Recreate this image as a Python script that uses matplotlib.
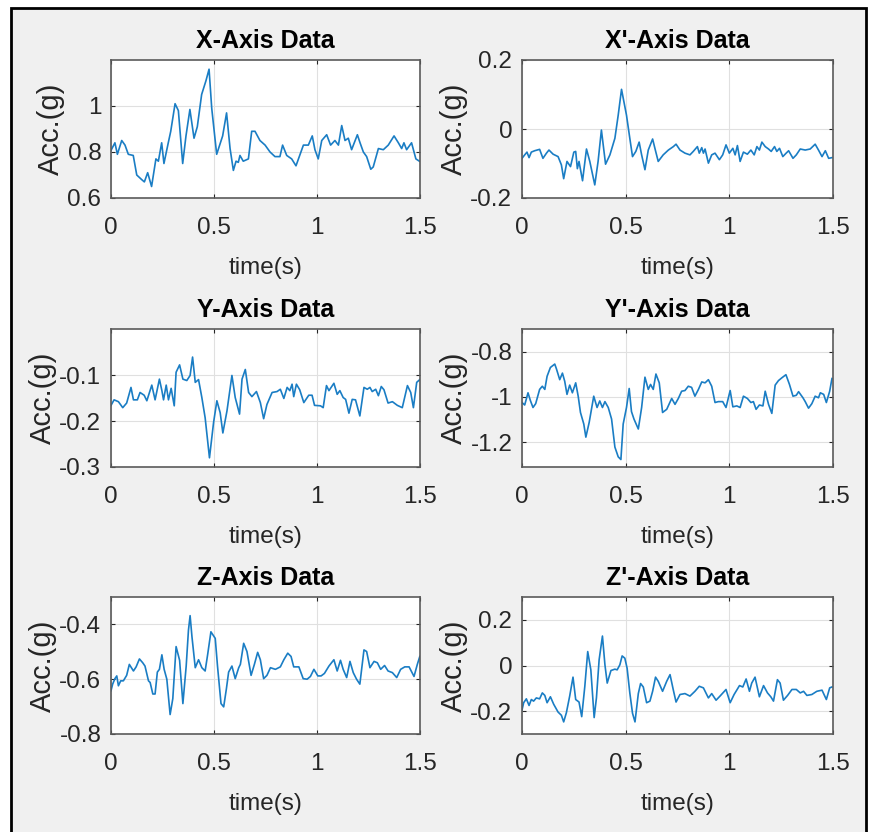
import matplotlib
matplotlib.use("Agg")
import matplotlib.pyplot as plt
from matplotlib.patches import Rectangle
from matplotlib.ticker import FormatStrFormatter

plt.rcParams['font.family'] = ['Liberation Sans', 'DejaVu Sans']
plt.rcParams['axes.unicode_minus'] = False

# ---- data (time in s, acceleration in g) ----
x_t = [0, 0.019, 0.031, 0.052, 0.068, 0.084, 0.108, 0.125, 0.149, 0.162, 0.178, 0.197, 0.218,
       0.230, 0.246, 0.257, 0.278, 0.290, 0.311, 0.327, 0.348, 0.364, 0.383, 0.403, 0.419, 0.440,
       0.461, 0.476, 0.489, 0.513, 0.542, 0.561, 0.578, 0.594, 0.607, 0.618, 0.626, 0.642, 0.667,
       0.683, 0.699, 0.723, 0.748, 0.772, 0.796, 0.820, 0.833, 0.853, 0.877, 0.898, 0.914, 0.934,
       0.958, 0.977, 0.990, 1.006, 1.023, 1.047, 1.066, 1.087, 1.104, 1.120, 1.136, 1.152, 1.168,
       1.196, 1.209, 1.225, 1.241, 1.261, 1.273, 1.298, 1.322, 1.346, 1.374, 1.395, 1.411, 1.422,
       1.435, 1.459, 1.480, 1.497]
x_acc = [0.807, 0.84, 0.79, 0.85, 0.83, 0.79, 0.785, 0.70, 0.68, 0.67, 0.71, 0.65, 0.77,
         0.76, 0.84, 0.75, 0.84, 0.89, 1.01, 0.98, 0.75, 0.87, 0.985, 0.86, 0.91, 1.05,
         1.11, 1.16, 0.99, 0.79, 0.87, 0.97, 0.815, 0.72, 0.76, 0.755, 0.785, 0.76, 0.77,
         0.89, 0.89, 0.85, 0.83, 0.80, 0.78, 0.78, 0.83, 0.785, 0.77, 0.74, 0.78, 0.83,
         0.83, 0.87, 0.81, 0.77, 0.85, 0.875, 0.83, 0.85, 0.83, 0.915, 0.85, 0.86, 0.81,
         0.875, 0.84, 0.80, 0.78, 0.725, 0.735, 0.815, 0.81, 0.83, 0.87, 0.84, 0.815, 0.84,
         0.81, 0.84, 0.77, 0.76]

xp_t = [0, 0.013, 0.024, 0.034, 0.045, 0.061, 0.085, 0.101, 0.118, 0.130, 0.150, 0.174, 0.190,
        0.201, 0.217, 0.234, 0.250, 0.259, 0.267, 0.275, 0.292, 0.311, 0.327, 0.351, 0.367, 0.383,
        0.403, 0.424, 0.448, 0.464, 0.480, 0.504, 0.520, 0.533, 0.549, 0.565, 0.577, 0.593, 0.609,
        0.630, 0.641, 0.657, 0.681, 0.706, 0.730, 0.743, 0.762, 0.786, 0.810, 0.826, 0.846, 0.855,
        0.867, 0.875, 0.883, 0.899, 0.915, 0.931, 0.952, 0.968, 0.984, 1.000, 1.017, 1.028, 1.039,
        1.052, 1.068, 1.087, 1.104, 1.120, 1.133, 1.145, 1.157, 1.173, 1.189, 1.202, 1.218, 1.229,
        1.242, 1.258, 1.274, 1.286, 1.307, 1.323, 1.342, 1.366, 1.390, 1.414, 1.430, 1.447, 1.463,
        1.479, 1.495]
xp_acc = [-0.085, -0.075, -0.067, -0.083, -0.067, -0.063, -0.059, -0.085, -0.070, -0.061, -0.073,
          -0.080, -0.104, -0.144, -0.094, -0.109, -0.067, -0.065, -0.115, -0.094, -0.150, -0.058,
          -0.094, -0.162, -0.094, -0.003, -0.102, -0.075, -0.027, 0.040, 0.115, 0.040, -0.027,
          -0.080, -0.065, -0.038, -0.075, -0.118, -0.061, -0.029, -0.056, -0.094, -0.075, -0.061,
          -0.051, -0.044, -0.061, -0.070, -0.075, -0.065, -0.051, -0.070, -0.054, -0.070, -0.058,
          -0.099, -0.075, -0.070, -0.089, -0.075, -0.046, -0.070, -0.056, -0.075, -0.048, -0.094,
          -0.067, -0.073, -0.061, -0.075, -0.051, -0.061, -0.038, -0.051, -0.058, -0.065, -0.051,
          -0.065, -0.056, -0.080, -0.070, -0.063, -0.085, -0.075, -0.058, -0.061, -0.058, -0.044,
          -0.061, -0.080, -0.063, -0.085, -0.083]

y_t = [0, 0.015, 0.036, 0.057, 0.076, 0.097, 0.109, 0.128, 0.141, 0.161, 0.174, 0.198, 0.214,
       0.235, 0.247, 0.255, 0.268, 0.279, 0.292, 0.307, 0.316, 0.333, 0.349, 0.368, 0.384, 0.396,
       0.409, 0.425, 0.441, 0.457, 0.478, 0.498, 0.514, 0.530, 0.543, 0.563, 0.587, 0.603, 0.624,
       0.636, 0.652, 0.668, 0.684, 0.706, 0.725, 0.741, 0.757, 0.782, 0.806, 0.822, 0.839, 0.855,
       0.868, 0.879, 0.887, 0.900, 0.916, 0.936, 0.960, 0.976, 0.988, 1.017, 1.030, 1.046, 1.058,
       1.082, 1.098, 1.111, 1.127, 1.139, 1.155, 1.171, 1.187, 1.208, 1.228, 1.244, 1.257, 1.268,
       1.285, 1.298, 1.312, 1.325, 1.345, 1.366, 1.390, 1.414, 1.439, 1.455, 1.468, 1.484, 1.499]
y_acc = [-0.166, -0.154, -0.158, -0.171, -0.161, -0.127, -0.154, -0.154, -0.138, -0.144, -0.156,
         -0.122, -0.154, -0.109, -0.134, -0.154, -0.122, -0.154, -0.129, -0.167, -0.094, -0.078,
         -0.109, -0.112, -0.101, -0.061, -0.116, -0.110, -0.149, -0.193, -0.280, -0.203, -0.156,
         -0.182, -0.226, -0.178, -0.101, -0.149, -0.185, -0.109, -0.088, -0.138, -0.147, -0.136,
         -0.160, -0.195, -0.164, -0.138, -0.136, -0.131, -0.151, -0.127, -0.134, -0.120, -0.147,
         -0.120, -0.132, -0.160, -0.144, -0.144, -0.166, -0.167, -0.171, -0.123, -0.134, -0.118,
         -0.142, -0.134, -0.149, -0.153, -0.183, -0.153, -0.154, -0.189, -0.127, -0.131, -0.127,
         -0.136, -0.131, -0.145, -0.125, -0.132, -0.161, -0.158, -0.166, -0.171, -0.123, -0.138,
         -0.171, -0.116, -0.110]

yp_t = [0, 0.013, 0.029, 0.040, 0.053, 0.066, 0.085, 0.098, 0.110, 0.121, 0.137, 0.158, 0.166,
        0.182, 0.195, 0.206, 0.217, 0.230, 0.243, 0.259, 0.271, 0.282, 0.298, 0.308, 0.324, 0.346,
        0.362, 0.375, 0.388, 0.400, 0.416, 0.432, 0.448, 0.464, 0.477, 0.488, 0.504, 0.517, 0.528,
        0.540, 0.561, 0.577, 0.593, 0.609, 0.620, 0.633, 0.646, 0.662, 0.678, 0.698, 0.722, 0.738,
        0.754, 0.770, 0.786, 0.802, 0.818, 0.834, 0.851, 0.867, 0.883, 0.899, 0.915, 0.931, 0.947,
        0.968, 0.984, 1.004, 1.017, 1.036, 1.052, 1.068, 1.087, 1.104, 1.116, 1.129, 1.145, 1.162,
        1.173, 1.189, 1.205, 1.221, 1.237, 1.253, 1.273, 1.290, 1.307, 1.323, 1.334, 1.355, 1.366,
        1.382, 1.398, 1.414, 1.430, 1.439, 1.455, 1.468, 1.484, 1.495]
yp_acc = [-1.025, -1.036, -0.982, -1.015, -1.047, -1.030, -0.967, -0.953, -0.967, -0.909, -0.870,
          -0.855, -0.876, -0.924, -0.895, -0.931, -0.989, -0.948, -0.982, -0.938, -0.997, -1.069,
          -1.120, -1.178, -1.113, -0.997, -1.047, -1.018, -1.047, -1.021, -1.047, -1.098, -1.222,
          -1.265, -1.277, -1.120, -1.047, -0.963, -1.065, -1.098, -1.142, -1.047, -0.913, -0.967,
          -0.945, -0.967, -0.899, -0.938, -1.069, -1.055, -1.007, -1.033, -1.007, -0.975, -0.972,
          -0.953, -0.958, -0.997, -0.967, -0.934, -0.938, -0.924, -0.953, -1.025, -1.021, -1.021,
          -1.047, -0.972, -1.044, -1.040, -1.047, -0.997, -1.007, -1.025, -1.021, -1.055, -1.036,
          -1.040, -0.975, -1.033, -1.073, -0.948, -0.928, -0.916, -0.902, -0.945, -0.997, -0.993,
          -0.977, -1.004, -1.021, -1.050, -1.030, -0.997, -1.004, -0.982, -0.989, -1.025, -0.975,
          -0.919]

z_t = [0, 0.008, 0.019, 0.028, 0.036, 0.047, 0.060, 0.076, 0.089, 0.109, 0.122, 0.138, 0.154,
       0.165, 0.182, 0.190, 0.203, 0.214, 0.225, 0.235, 0.247, 0.258, 0.271, 0.287, 0.300, 0.316,
       0.333, 0.349, 0.365, 0.376, 0.384, 0.393, 0.409, 0.425, 0.441, 0.457, 0.469, 0.485, 0.506,
       0.517, 0.534, 0.547, 0.560, 0.571, 0.587, 0.603, 0.620, 0.628, 0.644, 0.660, 0.680, 0.696,
       0.712, 0.725, 0.741, 0.757, 0.774, 0.798, 0.822, 0.839, 0.858, 0.874, 0.887, 0.912, 0.933,
       0.952, 0.968, 0.985, 1.004, 1.020, 1.036, 1.058, 1.082, 1.098, 1.114, 1.127, 1.144, 1.160,
       1.176, 1.192, 1.208, 1.228, 1.241, 1.257, 1.277, 1.293, 1.309, 1.328, 1.345, 1.366, 1.387,
       1.406, 1.426, 1.447, 1.471, 1.487, 1.499]
z_acc = [-0.642, -0.618, -0.598, -0.588, -0.624, -0.606, -0.606, -0.586, -0.546, -0.570, -0.555,
         -0.526, -0.540, -0.552, -0.606, -0.612, -0.654, -0.654, -0.574, -0.564, -0.511, -0.564,
         -0.600, -0.729, -0.671, -0.481, -0.531, -0.689, -0.552, -0.421, -0.368, -0.445, -0.558,
         -0.529, -0.558, -0.570, -0.511, -0.427, -0.451, -0.552, -0.689, -0.701, -0.636, -0.574,
         -0.552, -0.598, -0.558, -0.546, -0.469, -0.499, -0.586, -0.546, -0.502, -0.529, -0.598,
         -0.586, -0.558, -0.564, -0.555, -0.529, -0.505, -0.517, -0.555, -0.555, -0.598, -0.600,
         -0.590, -0.564, -0.588, -0.588, -0.579, -0.552, -0.529, -0.570, -0.531, -0.564, -0.594,
         -0.535, -0.576, -0.600, -0.618, -0.493, -0.499, -0.558, -0.535, -0.540, -0.564, -0.550,
         -0.570, -0.576, -0.594, -0.564, -0.555, -0.555, -0.590, -0.546, -0.517]

zp_t = [0, 0.008, 0.021, 0.034, 0.045, 0.056, 0.069, 0.085, 0.098, 0.110, 0.121, 0.137, 0.153,
        0.174, 0.190, 0.201, 0.214, 0.230, 0.246, 0.259, 0.275, 0.288, 0.303, 0.317, 0.332, 0.348,
        0.359, 0.372, 0.388, 0.400, 0.411, 0.429, 0.448, 0.459, 0.472, 0.483, 0.496, 0.507, 0.520,
        0.533, 0.545, 0.561, 0.572, 0.585, 0.601, 0.617, 0.630, 0.644, 0.657, 0.678, 0.698, 0.714,
        0.730, 0.743, 0.762, 0.786, 0.810, 0.834, 0.855, 0.875, 0.899, 0.915, 0.936, 0.955, 0.984,
        1.004, 1.023, 1.049, 1.065, 1.081, 1.097, 1.108, 1.124, 1.145, 1.165, 1.184, 1.200, 1.213,
        1.232, 1.245, 1.261, 1.281, 1.302, 1.323, 1.342, 1.358, 1.374, 1.398, 1.422, 1.447, 1.468,
        1.484, 1.495]
zp_acc = [-0.195, -0.163, -0.146, -0.175, -0.149, -0.156, -0.142, -0.146, -0.120, -0.131, -0.163,
          -0.137, -0.170, -0.204, -0.218, -0.247, -0.207, -0.134, -0.051, -0.149, -0.160, -0.224,
          -0.091, 0.061, -0.019, -0.228, -0.142, 0.025, 0.129, 0.003, -0.077, -0.022, -0.016,
          -0.019, 0.003, 0.042, 0.032, -0.012, -0.120, -0.209, -0.247, -0.123, -0.079, -0.094,
          -0.163, -0.156, -0.113, -0.051, -0.069, -0.113, -0.069, -0.040, -0.108, -0.160, -0.127,
          -0.123, -0.134, -0.113, -0.091, -0.098, -0.142, -0.123, -0.152, -0.134, -0.105, -0.163,
          -0.127, -0.088, -0.094, -0.059, -0.113, -0.077, -0.051, -0.137, -0.088, -0.120, -0.137,
          -0.156, -0.062, -0.077, -0.152, -0.131, -0.105, -0.105, -0.120, -0.113, -0.131, -0.127,
          -0.113, -0.108, -0.149, -0.098, -0.094]

titles = ["X-Axis Data", "X'-Axis Data", "Y-Axis Data", "Y'-Axis Data", "Z-Axis Data", "Z'-Axis Data"]
series = [(x_t, x_acc), (xp_t, xp_acc), (y_t, y_acc), (yp_t, yp_acc), (z_t, z_acc), (zp_t, zp_acc)]
ylims = [(0.6, 1.2), (-0.2, 0.2), (-0.3, 0.0), (-1.31, -0.70), (-0.8, -0.3), (-0.3, 0.3)]
yticks = [[0.6, 0.8, 1], [-0.2, 0, 0.2], [-0.3, -0.2, -0.1], [-1.2, -1, -0.8],
          [-0.8, -0.6, -0.4], [-0.2, 0, 0.2]]
xticks = [0, 0.5, 1, 1.5]

W, H = 869, 832
fig = plt.figure(figsize=(W / 100, H / 100), dpi=100, facecolor='white')

# grey panel with black frame (MATLAB figure background), kept behind the axes
fig.patches.append(Rectangle((11 / W, -0.05), (866 - 11) / W, 1.05 - 8 / H,
                             transform=fig.transFigure, facecolor='#f0f0f0',
                             edgecolor='black', linewidth=2.0, zorder=-5))

# axes boxes in pixels: left, top, right, bottom
cols = [(111, 420), (522, 833)]
rows = [(60, 198), (329, 467), (597, 734)]
fs = 17.5

for i, (title, (t, acc)) in enumerate(zip(titles, series)):
    c0, c1 = cols[i % 2]
    r0, r1 = rows[i // 2]
    ax = fig.add_axes([c0 / W, 1 - r1 / H, (c1 - c0) / W, (r1 - r0) / H])
    ax.set_zorder(2)
    ax.set_facecolor('white')
    ax.plot(t, acc, color='#1a7dc4', linewidth=1.2)
    ax.set_xlim(0, 1.5)
    ax.set_ylim(*ylims[i])
    ax.set_xticks(xticks)
    ax.set_yticks(yticks[i])
    ax.xaxis.set_major_formatter(FormatStrFormatter('%g'))
    ax.yaxis.set_major_formatter(FormatStrFormatter('%g'))
    ax.grid(True, color='#e0e0e0', linewidth=0.8)
    ax.set_axisbelow(True)
    ax.tick_params(direction='in', length=3, width=0.8, colors='#262626',
                   labelsize=fs, top=True, right=True)
    ax.tick_params(axis='x', pad=13.5)
    ax.tick_params(axis='y', pad=7)
    for sp in ax.spines.values():
        sp.set_color('#5a5a5a')
        sp.set_linewidth(1.2)
    ax.set_title(title, fontsize=18, fontweight='bold', pad=8.5)
    ax.set_xlabel('time(s)', fontsize=fs, color='#262626', labelpad=13)
    ax.set_ylabel('Acc.(g)', fontsize=21, color='#262626', labelpad=1.5)

fig.savefig('out.png', dpi=100, facecolor=fig.get_facecolor())
